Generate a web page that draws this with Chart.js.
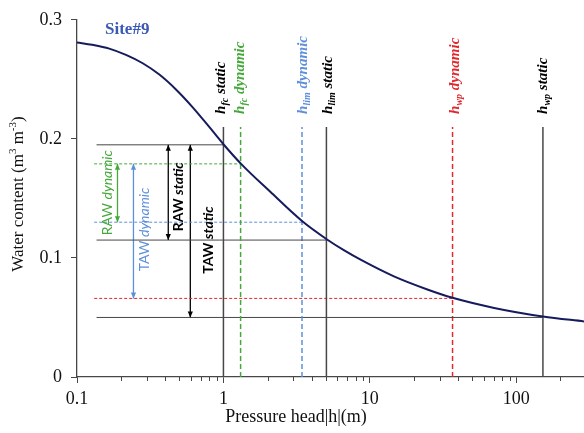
<!DOCTYPE html>
<html>
<head>
<meta charset="utf-8">
<script src="https://cdn.jsdelivr.net/npm/chart.js@4.4.1/dist/chart.umd.min.js"></script>
<style>
  html, body { margin: 0; padding: 0; background: #fff; }
  #wrap { width: 584px; height: 433px; }
</style>
</head>
<body>
<div id="wrap"><canvas id="retChart" width="584" height="433"></canvas></div>
<script>
// retention curve, |h| in m, theta in m3/m3
const curveH = [0.1, 0.127, 0.166, 0.216, 0.281, 0.365, 0.474, 0.617, 0.80, 1.0, 1.32, 2.09, 3.44, 5.1, 6.64, 8.64, 14.6, 24.7, 36.7, 70.6, 152, 290]
const curveTheta = [0.281, 0.279, 0.2758, 0.2705, 0.2635, 0.254, 0.2415, 0.2265, 0.21, 0.1955, 0.179, 0.1555, 0.131, 0.1155, 0.1065, 0.0985, 0.0845, 0.0735, 0.0665, 0.058, 0.0508, 0.0467]

// thresholds in order fc, lim, wp
const hStatic = [1, 5.05, 152]
const hDynamic = [1.31, 3.44, 36.7]
const thetaStatic = [0.195, 0.115, 0.05]
const thetaDynamic = [0.179, 0.130, 0.066]
const lineTop = 0.21
const hLineStart = 0.136

// double arrows: RAW dynamic, TAW dynamic, RAW static, TAW static
const arrowH = [0.189, 0.243, 0.42, 0.594]
const arrowFrom = [0.179, 0.179, 0.195, 0.195]
const arrowTo = [0.130, 0.066, 0.115, 0.05]

const xTicks = [0.1, 1, 10, 100]
const xTickLabels = ['0.1', '1', '10', '100']
const yTicks = [0, 0.1, 0.2, 0.3]
const yTickLabels = ['0', '0.1', '0.2', '0.3']

const GREEN = '#45a83a'
const BLUE = '#5e8fdc'
const RED = '#e2272d'
const NAVY = '#161b5c'
const GREY = '#474747'
const dynColors = [GREEN, BLUE, RED]
const arrowColors = [GREEN, BLUE, '#000', '#000']

const SERIF = '"Liberation Serif", "Times New Roman", serif'
const SANS = 'Lato, "Open Sans", sans-serif'

const datasets = []
datasets.push({
    data: curveH.map((h, i) => ({ x: h, y: curveTheta[i] })),
    borderColor: NAVY,
    borderWidth: 2,
    cubicInterpolationMode: 'monotone'
})
for (let i = 0; i < 3; i++) {
    datasets.push({
        data: [{ x: hLineStart, y: thetaStatic[i] }, { x: hStatic[i], y: thetaStatic[i] }],
        borderColor: GREY, borderWidth: 1
    })
    datasets.push({
        data: [{ x: hStatic[i], y: 0 }, { x: hStatic[i], y: lineTop }],
        borderColor: GREY, borderWidth: 1.5
    })
    datasets.push({
        data: [{ x: hLineStart - 0.005, y: thetaDynamic[i] }, { x: hDynamic[i], y: thetaDynamic[i] }],
        borderColor: dynColors[i], borderWidth: 1, borderDash: [3, 2]
    })
    datasets.push({
        data: [{ x: hDynamic[i], y: 0 }, { x: hDynamic[i], y: lineTop }],
        borderColor: dynColors[i], borderWidth: 1.5, borderDash: [5, 3]
    })
}
for (let i = 0; i < 4; i++) {
    datasets.push({
        data: [{ x: arrowH[i], y: arrowFrom[i] }, { x: arrowH[i], y: arrowTo[i] }],
        borderColor: arrowColors[i], borderWidth: 1.3, arrow: true
    })
}

// labels above the vertical lines
const hLabels = [
    { h: hStatic[0], sub: 'fc', rest: ' static', color: '#000', dx: 2 },
    { h: hDynamic[0], sub: 'fc', rest: ' dynamic', color: GREEN, dx: 3 },
    { h: hDynamic[1], sub: 'lim', rest: ' dynamic', color: BLUE, dx: 5 },
    { h: hStatic[1], sub: 'lim', rest: ' static', color: '#000', dx: 6 },
    { h: hDynamic[2], sub: 'wp', rest: ' dynamic', color: RED, dx: 6 },
    { h: hStatic[2], sub: 'wp', rest: ' static', color: '#000', dx: 4.5 }
]
// labels next to the arrows (y is the label centre)
const arrowLabels = [
    { a: 'RAW ', b: 'dynamic', color: GREEN, bold: false, dx: -5, y: 0.1548 },
    { a: 'TAW ', b: 'dynamic', color: BLUE, bold: false, dx: 16, y: 0.1239 },
    { a: 'RAW ', b: 'static', color: '#000', bold: true, dx: 15, y: 0.1514 },
    { a: 'TAW ', b: 'static', color: '#000', bold: true, dx: 23, y: 0.115 }
]

function drawRich(ctx, x, y, parts, color, rotate, align) {
    ctx.save()
    ctx.translate(x, y)
    if (rotate) ctx.rotate(-Math.PI / 2)
    ctx.textBaseline = 'alphabetic'
    ctx.textAlign = 'left'
    ctx.fillStyle = color
    let w = 0
    parts.forEach(p => { ctx.font = p[1]; w += ctx.measureText(p[0]).width })
    let cx = align === 'center' ? -w / 2 : 0
    parts.forEach(p => {
        ctx.font = p[1]
        ctx.fillText(p[0], cx, p[2] || 0)
        cx += ctx.measureText(p[0]).width
    })
    ctx.restore()
}

const extras = {
    id: 'extras',
    afterDatasetsDraw(chart) {
        const ctx = chart.ctx
        const xs = chart.scales.x
        const ys = chart.scales.y

        // arrow heads
        chart.data.datasets.forEach((ds, i) => {
            if (!ds.arrow) return
            const pts = chart.getDatasetMeta(i).data
            ctx.save()
            ctx.fillStyle = ds.borderColor
            ;[[pts[0], pts[1]], [pts[1], pts[0]]].forEach(([tip, other]) => {
                const dir = other.y > tip.y ? 1 : -1
                ctx.beginPath()
                ctx.moveTo(tip.x, tip.y)
                ctx.lineTo(tip.x - 2.6, tip.y + dir * 6)
                ctx.lineTo(tip.x + 2.6, tip.y + dir * 6)
                ctx.closePath()
                ctx.fill()
            })
            ctx.restore()
        })

        // minor ticks on the log axis
        ctx.save()
        ctx.strokeStyle = GREY
        ctx.lineWidth = 1
        xs.ticks.forEach(t => {
            if (xTicks.some(v => Math.abs(v - t.value) < 1e-9)) return
            const px = Math.round(xs.getPixelForValue(t.value)) + 0.5
            ctx.beginPath()
            ctx.moveTo(px, xs.top)
            ctx.lineTo(px, xs.top + 4)
            ctx.stroke()
        })
        ctx.restore()

        // vertical line labels
        const yStart = ys.getPixelForValue(lineTop) - 13
        hLabels.forEach(l => {
            const px = xs.getPixelForValue(l.h) + l.dx
            drawRich(ctx, px, yStart, [
                ['h', 'italic bold 15px ' + SERIF],
                [l.sub, 'italic bold 10px ' + SERIF, 3],
                [l.rest, 'italic bold 15px ' + SERIF]
            ], l.color, true, 'left')
        })

        // arrow labels
        arrowLabels.forEach((l, i) => {
            const px = xs.getPixelForValue(arrowH[i]) + l.dx
            const py = ys.getPixelForValue(l.y)
            const w = l.bold ? 'bold ' : ''
            drawRich(ctx, px, py, [
                [l.a, w + '14px ' + SANS],
                [l.b, 'italic ' + w + '14px ' + SANS]
            ], l.color, true, 'center')
        })

        // site name
        drawRich(ctx, 105, 34.3, [['Site#9', 'bold 17px ' + SERIF]], '#3a5ab4', false, 'left')

        // axis titles
        drawRich(ctx, 22.5, 194, [
            ['Water content (m', '17px ' + SERIF],
            ['3', '11px ' + SERIF, -7],
            [' m', '17px ' + SERIF],
            ['-3', '11px ' + SERIF, -7],
            [')', '17px ' + SERIF]
        ], '#111', true, 'center')
        drawRich(ctx, 296, 422, [['Pressure head|h|(m)', '18px ' + SERIF]], '#111', false, 'center')
    }
}

const config = {
    type: 'scatter',
    data: { datasets: datasets },
    options: {
        responsive: false,
        animation: false,
        showLine: true,
        elements: { point: { radius: 0, hoverRadius: 0 }, line: { tension: 0 } },
        layout: { padding: { top: 17, right: 0, left: 0, bottom: 0 } },
        plugins: { legend: { display: false }, tooltip: { enabled: false } },
        scales: {
            x: {
                type: 'logarithmic',
                min: 0.1,
                max: 290,
                afterBuildTicks: s => {
                    const t = []
                    xTicks.forEach(d => {
                        for (let k = 1; k < 10; k++) {
                            const v = +(k * d).toPrecision(3)
                            if (v <= 290) t.push({ value: v })
                        }
                    })
                    s.ticks = t
                },
                afterFit: s => { s.height = 56 },
                border: { color: GREY, width: 1.3 },
                grid: {
                    drawOnChartArea: false,
                    tickLength: 6,
                    tickColor: c => xTicks.some(v => Math.abs(v - c.tick.value) < 1e-9) ? GREY : 'rgba(0,0,0,0)'
                },
                ticks: {
                    autoSkip: false,
                    maxRotation: 0,
                    padding: 5,
                    color: '#111',
                    font: { family: SERIF, size: 18 },
                    callback: v => {
                        const i = xTicks.findIndex(t => Math.abs(t - v) < 1e-9)
                        return i >= 0 ? xTickLabels[i] : ''
                    }
                }
            },
            y: {
                min: 0,
                max: 0.3,
                afterBuildTicks: s => { s.ticks = yTicks.map(v => ({ value: v })) },
                afterFit: s => { s.width = 77 },
                border: { color: GREY, width: 1.3 },
                grid: { drawOnChartArea: false, tickLength: 6, tickColor: GREY },
                ticks: {
                    padding: 9,
                    color: '#111',
                    font: { family: SERIF, size: 18 },
                    callback: (v, i) => yTickLabels[i]
                }
            }
        }
    },
    plugins: [extras]
}

const retChart = new Chart(document.getElementById('retChart'), config)
</script>
</body>
</html>
